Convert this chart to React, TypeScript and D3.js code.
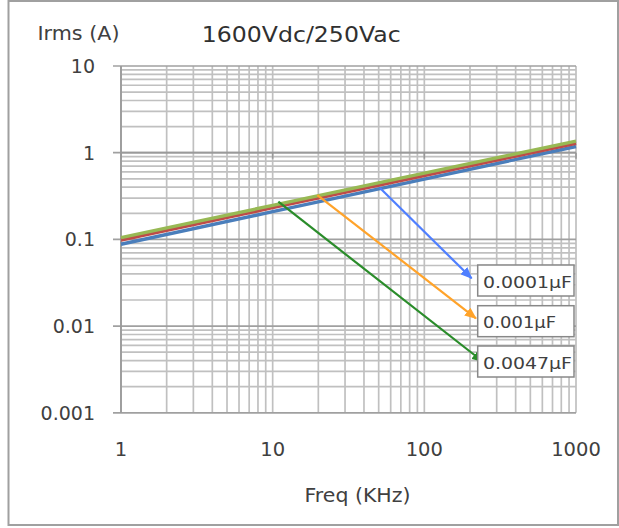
import React from "react";
import * as d3 from "d3";

// ---- data ----
const freqs = [1, 10, 100, 1000]; // KHz
const irmsBlue = [0.088, 0.209, 0.495, 1.18];
const irmsRed = [0.0985, 0.232, 0.546, 1.28];
const irmsGreen = [0.105, 0.247, 0.582, 1.36];

const xTickValues = [1, 10, 100, 1000];
const xTickLabels = ["1", "10", "100", "1000"];
const yTickValues = [0.001, 0.01, 0.1, 1, 10];
const yTickLabels = ["0.001", "0.01", "0.1", "1", "10"];

const capLabels = ["0.0001\u00b5F", "0.001\u00b5F", "0.0047\u00b5F"];
// arrow start / end in data coords [freq, irms]
const arrowStarts: [number, number][] = [[51, 0.392], [19.7, 0.325], [10.9, 0.272]];
const arrowEnds: [number, number][] = [[205, 0.0356], [219, 0.0123], [244, 0.00388]];

const W = 619;
const H = 528;
const L = 121, R = 576, T = 66, B = 412.8;

export default function App() {
  const x = d3.scaleLog().domain([1, 1000]).range([L, R]);
  const y = d3.scaleLog().domain([0.001, 10]).range([B, T]);

  const xGrid = x.ticks();
  const yGrid = y.ticks();
  const isMajor = (v: number) => Math.abs(Math.log10(v) - Math.round(Math.log10(v))) < 1e-9;

  const line = d3
    .line<number>()
    .x((_, i) => x(freqs[i]))
    .y((d) => y(d));

  const series = [
    { vals: irmsBlue, color: "#4a7ebb" },
    { vals: irmsRed, color: "#be4b48" },
    { vals: irmsGreen, color: "#98b954" },
  ];
  const arrowColors = ["#4f7fff", "#ffa32a", "#2a8c2a"];
  const boxTops = [265, 305.7, 346];
  const textWidths = [89, 73, 89];

  const font = "'DejaVu Sans', Verdana, sans-serif";
  const textColor = "#404040";

  return (
    <svg
      width={W}
      height={H}
      style={{ position: "absolute", left: 0, top: 0, display: "block", background: "#fff" }}
    >
      <defs>
        {arrowColors.map((c, i) => (
          <marker
            key={i}
            id={`ah${i}`}
            viewBox="0 0 12 10"
            refX={11}
            refY={5}
            markerWidth={12}
            markerHeight={10}
            markerUnits="userSpaceOnUse"
            orient="auto"
          >
            <path d="M0,0 L12,5 L0,10 z" fill={c} />
          </marker>
        ))}
      </defs>
      <rect x={8.5} y={1} width={609.5} height={524} fill="#fff" stroke="#a0a0a0" strokeWidth={2} />

      {/* vertical gridlines */}
      {xGrid.map((v, i) => (
        <line key={"vx" + i} x1={x(v)} x2={x(v)} y1={T} y2={B} stroke="#c0c0c0" strokeWidth={1.7} />
      ))}
      {/* horizontal gridlines */}
      {yGrid.map((v, i) => (
        <line
          key={"hy" + i}
          x1={isMajor(v) ? L - 8 : L}
          x2={R}
          y1={y(v)}
          y2={y(v)}
          stroke={isMajor(v) ? "#a0a0a0" : "#c0c0c0"}
          strokeWidth={1.7}
        />
      ))}
      {/* left axis */}
      <line x1={L} x2={L} y1={T} y2={B} stroke="#9a9a9a" strokeWidth={1.8} />
      {/* horizontal axis crossing at 1 with ticks */}
      <line x1={L} x2={R} y1={y(1)} y2={y(1)} stroke="#9a9a9a" strokeWidth={1.8} />
      {xTickValues.map((v, i) => (
        <line key={"xt" + i} x1={x(v)} x2={x(v)} y1={y(1)} y2={y(1) + 6} stroke="#999" strokeWidth={1.6} />
      ))}

      {/* series */}
      {series.map((s, i) => (
        <path key={"s" + i} d={line(s.vals) || ""} fill="none" stroke={s.color} strokeWidth={3.4} />
      ))}

      {/* arrows */}
      {arrowStarts.map((st, i) => (
        <line
          key={"ar" + i}
          x1={x(st[0])}
          y1={y(st[1])}
          x2={x(arrowEnds[i][0])}
          y2={y(arrowEnds[i][1])}
          stroke={arrowColors[i]}
          strokeWidth={2.2}
          markerEnd={`url(#ah${i})`}
        />
      ))}

      {/* label boxes */}
      {capLabels.map((t, i) => (
        <g key={"lb" + i}>
          <rect x={477.7} y={boxTops[i]} width={96.3} height={31} fill="#fff" stroke="#888" strokeWidth={1.5} />
          <text
            x={483}
            y={boxTops[i] + 22.5}
            fontFamily={font}
            fontSize={15}
            fill={textColor}
            textLength={textWidths[i]}
            lengthAdjust="spacingAndGlyphs"
          >
            {t}
          </text>
        </g>
      ))}

      {/* y tick labels */}
      {yTickValues.map((v, i) => (
        <text
          key={"yl" + i}
          x={95}
          y={y(v) + 7}
          textAnchor="end"
          fontFamily={font}
          fontSize={19}
          fill={textColor}
        >
          {yTickLabels[i]}
        </text>
      ))}
      {/* x tick labels */}
      {xTickValues.map((v, i) => (
        <text
          key={"xl" + i}
          x={x(v)}
          y={456}
          textAnchor="middle"
          fontFamily={font}
          fontSize={19.5}
          fill={textColor}
        >
          {xTickLabels[i]}
        </text>
      ))}

      {/* titles */}
      <text x={37.5} y={40} fontFamily={font} fontSize={20} fill={textColor} textLength={82} lengthAdjust="spacingAndGlyphs">
        Irms (A)
      </text>
      <text x={201.7} y={42} fontFamily={font} fontSize={21} fill="#303030" textLength={199} lengthAdjust="spacingAndGlyphs">
        1600Vdc/250Vac
      </text>
      <text x={304.5} y={502} fontFamily={font} fontSize={19} fill={textColor} textLength={106} lengthAdjust="spacingAndGlyphs">
        Freq (KHz)
      </text>
    </svg>
  );
}
